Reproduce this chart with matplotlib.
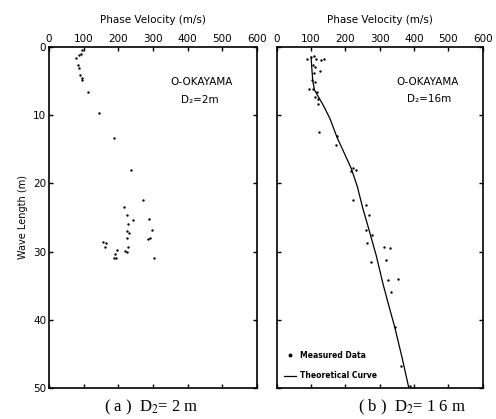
import numpy as np
import matplotlib
matplotlib.use('Agg')
import matplotlib.pyplot as plt
from matplotlib.lines import Line2D

plt.rcParams['font.family'] = ['DejaVu Sans']
plt.rcParams['mathtext.fontset'] = 'stix'

# panel (a) measured data, D2 = 2 m
a_vel = [78, 87, 94, 92, 82, 86, 89, 94, 96, 113, 145, 186, 236, 270, 217,
         224, 241, 229, 289, 296, 224, 232, 226, 285, 291, 155, 164, 162,
         229, 219, 224, 197, 190, 186, 192, 303]
a_len = [1.6, 1.2, 0.4, 1.0, 2.6, 3.1, 4.1, 4.6, 4.9, 6.6, 9.75, 13.3, 18.1,
         22.4, 23.5, 24.7, 25.3, 26.0, 25.2, 26.8, 27.0, 27.3, 28.0, 28.1,
         28.0, 28.6, 28.8, 29.3, 29.4, 29.9, 30.0, 29.7, 30.3, 30.9, 30.9, 30.9]

# panel (b) measured data, D2 = 16 m
b_vel = [88, 101, 108, 113, 130, 137, 106, 111, 125, 108, 104, 111, 94, 106,
         116, 111, 120, 120, 123, 176, 174, 222, 215, 230, 222, 261, 268, 261,
         278, 263, 313, 331, 274, 317, 324, 353, 334, 344, 363, 388]
b_len = [1.8, 1.5, 1.4, 1.7, 1.9, 1.8, 2.6, 2.9, 3.5, 3.8, 4.9, 5.2, 6.1, 6.2,
         6.6, 7.3, 7.7, 8.3, 12.4, 13.1, 14.4, 17.7, 18.2, 18.1, 22.5, 23.1,
         24.6, 26.9, 27.5, 28.8, 29.3, 29.5, 31.5, 31.2, 34.1, 34.0, 35.9,
         41.0, 46.8, 49.7]

# theoretical curve for panel (b)
th_vel = [100, 102, 105, 110, 120, 135, 155, 176, 197, 217, 235, 251, 270,
          290, 310, 327, 344, 365, 385]
th_len = [1.5, 3, 5, 6.3, 7.2, 8.5, 10.5, 13.3, 15.6, 17.8, 20.5, 23.7, 27,
          30.6, 34.8, 38, 41.1, 45.5, 50]

fig = plt.figure(figsize=(4.96, 4.19), dpi=100)
ax1 = fig.add_axes([0.099, 0.074, 0.419, 0.814])
ax2 = fig.add_axes([0.558, 0.074, 0.415, 0.814])

for ax in (ax1, ax2):
    ax.set_xlim(0, 600)
    ax.set_ylim(50, 0)
    ax.set_xticks([0, 100, 200, 300, 400, 500, 600])
    ax.set_yticks([0, 10, 20, 30, 40, 50])
    ax.xaxis.tick_top()
    ax.xaxis.set_label_position('top')
    ax.tick_params(direction='in', top=True, bottom=True, left=True, right=True,
                   length=3, width=1, labelsize=7.5, pad=2)
    ax.set_xlabel('Phase Velocity (m/s)', fontsize=7.5, labelpad=8)
    for s in ax.spines.values():
        s.set_linewidth(1.2)
    ax.text(440, 5.1, 'O-OKAYAMA', fontsize=7.5, ha='center', va='center')

ax1.set_ylabel('Wave Length (m)', fontsize=7, labelpad=4)
ax2.tick_params(labelleft=False)

ax1.scatter(a_vel, a_len, s=3, color='black', linewidths=0)
ax1.text(435, 7.8, 'D\u2082=2m', fontsize=7.5, ha='center', va='center')

ax2.scatter(b_vel, b_len, s=3, color='black', linewidths=0)
ax2.plot(th_vel, th_len, color='black', lw=0.9)
ax2.text(445, 7.6, 'D\u2082=16m', fontsize=7.5, ha='center', va='center')

handles = [Line2D([0], [0], marker='o', color='black', lw=0, markersize=1.8),
           Line2D([0], [0], color='black', lw=0.9)]
ax2.legend(handles, ['Measured Data', 'Theoretical Curve'], loc='lower left',
           frameon=False, handlelength=1.5, handletextpad=0.6,
           labelspacing=1.5, borderaxespad=0.6,
           prop={'weight': 'bold', 'size': 5.5})

fig.text(0.306, 0.028, r'( a )  D$_{2}$= 2 m', fontsize=12, ha='center',
         va='center', family='Liberation Serif')
fig.text(0.831, 0.028, r'( b )  D$_{2}$= 1 6 m', fontsize=12, ha='center',
         va='center', family='Liberation Serif')

fig.savefig('out.png', dpi=100)
